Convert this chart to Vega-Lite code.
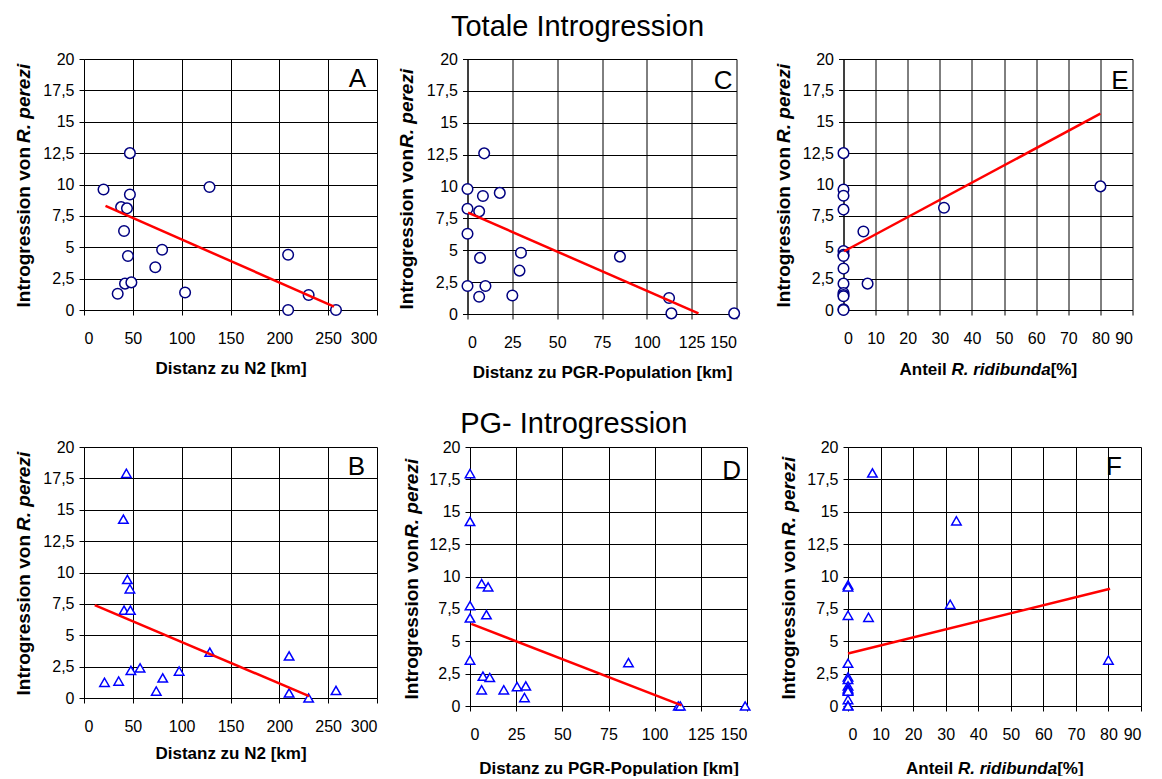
{
  "$schema": "https://vega.github.io/schema/vega-lite/v6.json",
  "background": "white",
  "padding": {"left": 14, "top": 13, "right": 5, "bottom": 0},
  "datasets": {
    "A_pts": [{"x":20,"y":9.6},{"x":47,"y":12.5},{"x":47,"y":9.2},{"x":38,"y":8.2},{"x":44,"y":8.1},{"x":41,"y":6.3},{"x":45,"y":4.3},{"x":80,"y":4.8},{"x":73,"y":3.4},{"x":34.5,"y":1.3},{"x":42,"y":2.1},{"x":48.5,"y":2.2},{"x":103.5,"y":1.4},{"x":128.5,"y":9.8},{"x":209,"y":4.4},{"x":209,"y":0},{"x":230,"y":1.2},{"x":258,"y":0}],
    "A_line": [{"x":22,"y":8.3},{"x":256,"y":0.27}],
    "C_pts": [{"x":0,"y":9.8},{"x":9.3,"y":12.6},{"x":8.6,"y":9.25},{"x":18,"y":9.5},{"x":0,"y":8.25},{"x":6.5,"y":8.05},{"x":0,"y":6.3},{"x":29.8,"y":4.8},{"x":7,"y":4.4},{"x":29,"y":3.4},{"x":0,"y":2.2},{"x":10,"y":2.2},{"x":6.5,"y":1.35},{"x":25,"y":1.45},{"x":85,"y":4.5},{"x":112.4,"y":1.25},{"x":113.7,"y":0.05},{"x":148.7,"y":0.05}],
    "C_line": [{"x":0.3,"y":7.95},{"x":128.8,"y":0.05}],
    "E_pts": [{"x":0,"y":12.5},{"x":0,"y":9.6},{"x":0,"y":9.1},{"x":0,"y":8.0},{"x":6.2,"y":6.25},{"x":31.3,"y":8.15},{"x":80,"y":9.85},{"x":0,"y":4.7},{"x":0,"y":4.4},{"x":0,"y":4.3},{"x":0,"y":3.3},{"x":0,"y":2.1},{"x":7.5,"y":2.1},{"x":0,"y":1.35},{"x":0,"y":1.2},{"x":0,"y":1.1},{"x":0,"y":0.05},{"x":0,"y":0}],
    "E_line": [{"x":0.2,"y":4.68},{"x":80,"y":15.64}],
    "B_pts": [{"x":43.4,"y":17.9},{"x":40.3,"y":14.25},{"x":44.4,"y":9.45},{"x":47,"y":8.7},{"x":41,"y":7.0},{"x":47.5,"y":7.0},{"x":48,"y":2.2},{"x":57.4,"y":2.4},{"x":21,"y":1.25},{"x":35.5,"y":1.35},{"x":74,"y":0.55},{"x":80.6,"y":1.6},{"x":97.4,"y":2.15},{"x":128.8,"y":3.65},{"x":210,"y":3.35},{"x":210,"y":0.4},{"x":230,"y":0},{"x":258,"y":0.6}],
    "B_line": [{"x":11,"y":7.4},{"x":230.5,"y":0.15}],
    "D_pts": [{"x":0,"y":17.95},{"x":0,"y":14.25},{"x":6.3,"y":9.45},{"x":9.8,"y":9.2},{"x":0,"y":7.75},{"x":0,"y":6.8},{"x":8.9,"y":7.05},{"x":0,"y":3.55},{"x":7,"y":2.3},{"x":10.7,"y":2.2},{"x":6.3,"y":1.25},{"x":18.3,"y":1.25},{"x":25.5,"y":1.5},{"x":30.2,"y":1.55},{"x":29.5,"y":0.65},{"x":85.8,"y":3.35},{"x":112.8,"y":0},{"x":113.9,"y":0},{"x":149,"y":0}],
    "D_line": [{"x":0.7,"y":6.34},{"x":114.6,"y":0.05}],
    "F_pts": [{"x":7.5,"y":18},{"x":33.3,"y":14.3},{"x":0,"y":9.35},{"x":0,"y":9.2},{"x":0,"y":7.0},{"x":6.3,"y":6.85},{"x":31.4,"y":7.85},{"x":80,"y":3.55},{"x":0,"y":3.3},{"x":0,"y":2.25},{"x":0,"y":2.05},{"x":0,"y":1.55},{"x":0,"y":1.35},{"x":0,"y":1.25},{"x":0,"y":1.15},{"x":0,"y":0.5},{"x":0,"y":0.05},{"x":0,"y":0}],
    "F_line": [{"x":0,"y":4.05},{"x":80.5,"y":9.05}]
  },
  "vconcat": [
    {
      "title": {"text": "Totale Introgression", "fontSize": 29, "fontWeight": "normal", "anchor": "middle", "offset": 9, "dx": 4},
      "spacing": 19.5,
      "hconcat": [
        {
          "width": 293, "height": 251,
          "title": {"text": "A", "anchor": "end", "frame": "group", "offset": -30, "dy": 31.5, "dx": -11, "fontSize": 26, "fontWeight": "normal", "baseline": "alphabetic"},
          "layer": [
            {"data": {"name": "A_pts"},
             "mark": {"type": "point", "shape": "circle", "fill": "white", "stroke": "#000080", "strokeWidth": 1.5, "size": 112, "opacity": 1},
             "encoding": {
               "x": {"field": "x", "type": "quantitative", "scale": {"domain": [0, 300], "nice": false},
                     "axis": {"values": [0,50,100,150,200,250,300], "grid": true, "title": "Distanz zu N2 [km]", "titleX": 146.5, "titleY": 63, "titleAlign": "center", "titleBaseline": "alphabetic"}},
               "y": {"field": "y", "type": "quantitative", "scale": {"domain": [0, 20], "nice": false},
                     "axis": {"values": [0,2.5,5,7.5,10,12.5,15,17.5,20], "grid": true, "labelExpr": "replace(format(datum.value, '~g'), '.', ',')", "title": "Introgression von", "titleFontSize": 19, "titleX": -61, "titleY": 87.5, "titleAlign": "right", "titleAngle": 270, "titleBaseline": "middle"}}
             }},
            {"data": {"name": "A_line"},
             "mark": {"type": "line", "color": "#FF0000", "strokeWidth": 2.5},
             "encoding": {
               "x": {"field": "x", "type": "quantitative", "scale": {"domain": [0, 300], "nice": false}},
               "y": {"field": "y", "type": "quantitative", "scale": {"domain": [0, 20], "nice": false},
                     "axis": {"orient": "left", "title": "R. perezi", "titleFontStyle": "italic", "titleFontSize": 19, "labels": false, "ticks": false, "domain": false, "grid": false, "titleX": -61, "titleY": 83.5, "titleAlign": "left", "titleAngle": 270, "titleBaseline": "middle"}}
             }}
          ],
          "resolve": {"axis": {"y": "independent"}}
        },
        {
          "spacing": 32,
          "hconcat": [
            {
              "width": 269, "height": 255,
              "title": {"text": "C", "anchor": "end", "frame": "group", "offset": -30, "dy": 33.5, "dx": -4, "fontSize": 26, "fontWeight": "normal", "baseline": "alphabetic"},
              "layer": [
                {"data": {"name": "C_pts"},
                 "mark": {"type": "point", "shape": "circle", "fill": "white", "stroke": "#000080", "strokeWidth": 1.5, "size": 112, "opacity": 1},
                 "encoding": {
                   "x": {"field": "x", "type": "quantitative", "scale": {"domain": [0, 150], "nice": false},
                         "axis": {"values": [0,25,50,75,100,125,150], "grid": true, "title": "Distanz zu PGR-Population [km]", "titleX": 134.5, "titleY": 63, "titleAlign": "center", "titleBaseline": "alphabetic"}},
                   "y": {"field": "y", "type": "quantitative", "scale": {"domain": [0, 20], "nice": false},
                         "axis": {"values": [0,2.5,5,7.5,10,12.5,15,17.5,20], "grid": true, "labelExpr": "replace(format(datum.value, '~g'), '.', ',')", "title": "Introgression von", "titleFontSize": 19, "titleX": -61, "titleY": 89.5, "titleAlign": "right", "titleAngle": 270, "titleBaseline": "middle"}}
                 }},
                {"data": {"name": "C_line"},
                 "mark": {"type": "line", "color": "#FF0000", "strokeWidth": 2.5},
                 "encoding": {
                   "x": {"field": "x", "type": "quantitative", "scale": {"domain": [0, 150], "nice": false}},
                   "y": {"field": "y", "type": "quantitative", "scale": {"domain": [0, 20], "nice": false},
                         "axis": {"orient": "left", "title": "R. perezi", "titleFontStyle": "italic", "titleFontSize": 19, "labels": false, "ticks": false, "domain": false, "grid": false, "titleX": -61, "titleY": 88.5, "titleAlign": "left", "titleAngle": 270, "titleBaseline": "middle"}}
                 }}
              ],
              "resolve": {"axis": {"y": "independent"}}
            },
            {
              "width": 289, "height": 251,
              "title": {"text": "E", "anchor": "end", "frame": "group", "offset": -30, "dy": 33.5, "dx": -4, "fontSize": 26, "fontWeight": "normal", "baseline": "alphabetic"},
              "layer": [
                {"data": {"name": "E_pts"},
                 "mark": {"type": "point", "shape": "circle", "fill": "white", "stroke": "#000080", "strokeWidth": 1.5, "size": 112, "opacity": 1},
                 "encoding": {
                   "x": {"field": "x", "type": "quantitative", "scale": {"domain": [0, 90], "nice": false},
                         "axis": {"values": [0,10,20,30,40,50,60,70,80,90], "grid": true, "title": "Anteil\u00a0\u00a0\u00a0\u00a0\u00a0\u00a0\u00a0\u00a0\u00a0\u00a0\u00a0\u00a0\u00a0\u00a0\u00a0\u00a0\u00a0\u00a0\u00a0\u00a0\u00a0\u00a0[%]", "titleX": 55.5, "titleY": 64, "titleAlign": "left", "titleBaseline": "alphabetic"}},
                   "y": {"field": "y", "type": "quantitative", "scale": {"domain": [0, 20], "nice": false},
                         "axis": {"values": [0,2.5,5,7.5,10,12.5,15,17.5,20], "grid": true, "labelExpr": "replace(format(datum.value, '~g'), '.', ',')", "title": "Introgression von", "titleFontSize": 19, "titleX": -60, "titleY": 87.5, "titleAlign": "right", "titleAngle": 270, "titleBaseline": "middle"}}
                 }},
                {"data": {"name": "E_line"},
                 "mark": {"type": "line", "color": "#FF0000", "strokeWidth": 2.5},
                 "encoding": {
                   "x": {"field": "x", "type": "quantitative", "scale": {"domain": [0, 90], "nice": false},
                         "axis": {"orient": "bottom", "title": "R. ridibunda", "titleFontStyle": "italic", "labels": false, "ticks": false, "domain": false, "grid": false, "titleX": 107.5, "titleY": 64, "titleAlign": "left", "titleBaseline": "alphabetic"}},
                   "y": {"field": "y", "type": "quantitative", "scale": {"domain": [0, 20], "nice": false},
                         "axis": {"orient": "left", "title": "R. perezi", "titleFontStyle": "italic", "titleFontSize": 19, "labels": false, "ticks": false, "domain": false, "grid": false, "titleX": -60, "titleY": 83.5, "titleAlign": "left", "titleAngle": 270, "titleBaseline": "middle"}}
                 }}
              ],
              "resolve": {"axis": {"x": "independent", "y": "independent"}}
            }
          ]
        }
      ]
    },
    {
      "title": {"text": "PG- Introgression", "fontSize": 29, "fontWeight": "normal", "anchor": "middle", "offset": 0, "dx": -4},
      "spacing": 24,
      "hconcat": [
        {
          "width": 293, "height": 251,
          "title": {"text": "B", "anchor": "end", "frame": "group", "offset": -29, "dy": 32.5, "dx": -12, "fontSize": 26, "fontWeight": "normal", "baseline": "alphabetic"},
          "layer": [
            {"data": {"name": "B_pts"},
             "mark": {"type": "point", "shape": "triangle-up", "fill": "white", "stroke": "#0000FF", "strokeWidth": 1.5, "size": 90, "opacity": 1},
             "encoding": {
               "x": {"field": "x", "type": "quantitative", "scale": {"domain": [0, 300], "nice": false},
                     "axis": {"values": [0,50,100,150,200,250,300], "grid": true, "title": "Distanz zu N2 [km]", "titleX": 146.5, "titleY": 60, "titleAlign": "center", "titleBaseline": "alphabetic"}},
               "y": {"field": "y", "type": "quantitative", "scale": {"domain": [0, 20], "nice": false},
                     "axis": {"values": [0,2.5,5,7.5,10,12.5,15,17.5,20], "grid": true, "labelExpr": "replace(format(datum.value, '~g'), '.', ',')", "title": "Introgression von", "titleFontSize": 19, "titleX": -61, "titleY": 87.5, "titleAlign": "right", "titleAngle": 270, "titleBaseline": "middle"}}
             }},
            {"data": {"name": "B_line"},
             "mark": {"type": "line", "color": "#FF0000", "strokeWidth": 2.5},
             "encoding": {
               "x": {"field": "x", "type": "quantitative", "scale": {"domain": [0, 300], "nice": false}},
               "y": {"field": "y", "type": "quantitative", "scale": {"domain": [0, 20], "nice": false},
                     "axis": {"orient": "left", "title": "R. perezi", "titleFontStyle": "italic", "titleFontSize": 19, "labels": false, "ticks": false, "domain": false, "grid": false, "titleX": -61, "titleY": 83.5, "titleAlign": "left", "titleAngle": 270, "titleBaseline": "middle"}}
             }}
          ],
          "resolve": {"axis": {"y": "independent"}}
        },
        {
          "spacing": 26,
          "hconcat": [
            {
              "width": 277, "height": 259,
              "title": {"text": "D", "anchor": "end", "frame": "group", "offset": -31, "dy": 34.5, "dx": -6, "fontSize": 26, "fontWeight": "normal", "baseline": "alphabetic"},
              "layer": [
                {"data": {"name": "D_pts"},
                 "mark": {"type": "point", "shape": "triangle-up", "fill": "white", "stroke": "#0000FF", "strokeWidth": 1.5, "size": 90, "opacity": 1},
                 "encoding": {
                   "x": {"field": "x", "type": "quantitative", "scale": {"domain": [0, 150], "nice": false},
                         "axis": {"values": [0,25,50,75,100,125,150], "grid": true, "title": "Distanz zu PGR-Population [km]", "titleX": 138.5, "titleY": 67, "titleAlign": "center", "titleBaseline": "alphabetic"}},
                   "y": {"field": "y", "type": "quantitative", "scale": {"domain": [0, 20], "nice": false},
                         "axis": {"values": [0,2.5,5,7.5,10,12.5,15,17.5,20], "grid": true, "labelExpr": "replace(format(datum.value, '~g'), '.', ',')", "title": "Introgression von", "titleFontSize": 19, "titleX": -59, "titleY": 91.5, "titleAlign": "right", "titleAngle": 270, "titleBaseline": "middle"}}
                 }},
                {"data": {"name": "D_line"},
                 "mark": {"type": "line", "color": "#FF0000", "strokeWidth": 2.5},
                 "encoding": {
                   "x": {"field": "x", "type": "quantitative", "scale": {"domain": [0, 150], "nice": false}},
                   "y": {"field": "y", "type": "quantitative", "scale": {"domain": [0, 20], "nice": false},
                         "axis": {"orient": "left", "title": "R. perezi", "titleFontStyle": "italic", "titleFontSize": 19, "labels": false, "ticks": false, "domain": false, "grid": false, "titleX": -59, "titleY": 90.5, "titleAlign": "left", "titleAngle": 270, "titleBaseline": "middle"}}
                 }}
              ],
              "resolve": {"axis": {"y": "independent"}}
            },
            {
              "width": 293, "height": 259,
              "title": {"text": "F", "anchor": "end", "frame": "group", "offset": -29, "dy": 32.5, "dx": -19, "fontSize": 26, "fontWeight": "normal", "baseline": "alphabetic"},
              "layer": [
                {"data": {"name": "F_pts"},
                 "mark": {"type": "point", "shape": "triangle-up", "fill": "white", "stroke": "#0000FF", "strokeWidth": 1.5, "size": 90, "opacity": 1},
                 "encoding": {
                   "x": {"field": "x", "type": "quantitative", "scale": {"domain": [0, 90], "nice": false},
                         "axis": {"values": [0,10,20,30,40,50,60,70,80,90], "grid": true, "title": "Anteil\u00a0\u00a0\u00a0\u00a0\u00a0\u00a0\u00a0\u00a0\u00a0\u00a0\u00a0\u00a0\u00a0\u00a0\u00a0\u00a0\u00a0\u00a0\u00a0\u00a0\u00a0\u00a0[%]", "titleX": 57.5, "titleY": 67, "titleAlign": "left", "titleBaseline": "alphabetic"}},
                   "y": {"field": "y", "type": "quantitative", "scale": {"domain": [0, 20], "nice": false},
                         "axis": {"values": [0,2.5,5,7.5,10,12.5,15,17.5,20], "grid": true, "labelExpr": "replace(format(datum.value, '~g'), '.', ',')", "title": "Introgression von", "titleFontSize": 19, "titleX": -60, "titleY": 91.5, "titleAlign": "right", "titleAngle": 270, "titleBaseline": "middle"}}
                 }},
                {"data": {"name": "F_line"},
                 "mark": {"type": "line", "color": "#FF0000", "strokeWidth": 2.5},
                 "encoding": {
                   "x": {"field": "x", "type": "quantitative", "scale": {"domain": [0, 90], "nice": false},
                         "axis": {"orient": "bottom", "title": "R. ridibunda", "titleFontStyle": "italic", "labels": false, "ticks": false, "domain": false, "grid": false, "titleX": 109.5, "titleY": 67, "titleAlign": "left", "titleBaseline": "alphabetic"}},
                   "y": {"field": "y", "type": "quantitative", "scale": {"domain": [0, 20], "nice": false},
                         "axis": {"orient": "left", "title": "R. perezi", "titleFontStyle": "italic", "titleFontSize": 19, "labels": false, "ticks": false, "domain": false, "grid": false, "titleX": -60, "titleY": 88.5, "titleAlign": "left", "titleAngle": 270, "titleBaseline": "middle"}}
                 }}
              ],
              "resolve": {"axis": {"x": "independent", "y": "independent"}}
            }
          ]
        }
      ]
    }
  ],
  "spacing": 30,
  "config": {
    "font": "Liberation Sans",
    "view": {"stroke": null},
    "title": {"font": "Liberation Sans", "color": "black"},
    "axis": {
      "labelFont": "Liberation Sans", "labelFontSize": 16, "labelColor": "black",
      "titleFont": "Liberation Sans", "titleFontSize": 17, "titleFontWeight": "bold", "titleColor": "black",
      "domainColor": "black", "domainWidth": 1, "tickColor": "black", "tickSize": 5,
      "gridColor": "black", "gridOpacity": 1, "gridWidth": 1
    },
    "axisX": {"labelPadding": 15},
    "axisY": {"labelPadding": 5}
  }
}
